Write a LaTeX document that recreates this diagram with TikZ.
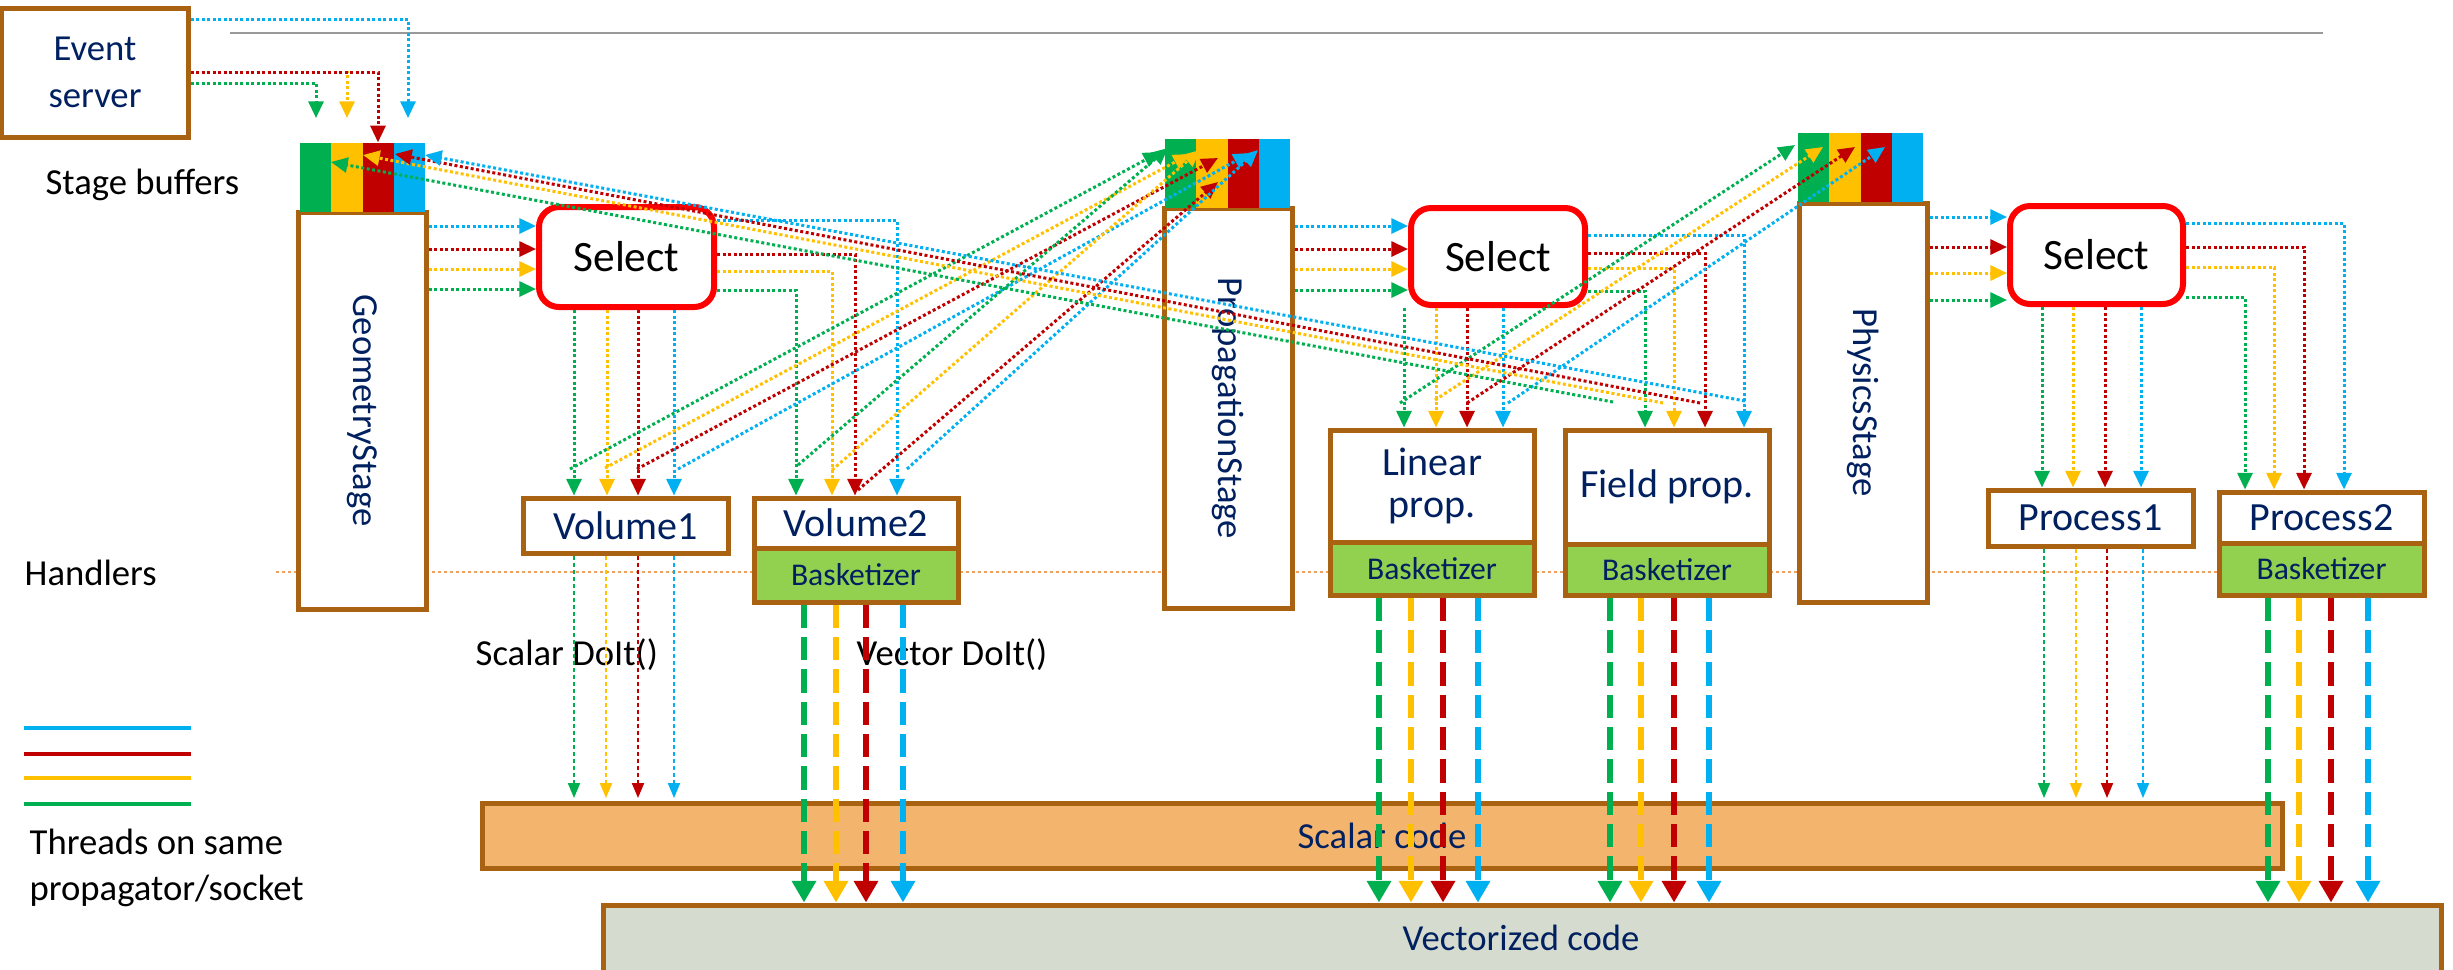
\documentclass[tikz,border=0pt]{standalone}
\usepackage{fontspec}
\setmainfont{Carlito}
\usetikzlibrary{arrows.meta,fit}
\definecolor{cg}{HTML}{00B050}
\definecolor{cy}{HTML}{FFC000}
\definecolor{cr}{HTML}{C00000}
\definecolor{cb}{HTML}{00B0F0}
\definecolor{brn}{RGB}{168,98,18}
\definecolor{navy}{HTML}{002060}
\definecolor{selred}{HTML}{FF0000}
\definecolor{bgreen}{HTML}{92D050}
\definecolor{scal}{RGB}{243,180,110}
\definecolor{vecc}{RGB}{213,219,207}
\definecolor{hand}{RGB}{240,160,90}
\begin{document}
\begin{tikzpicture}[x=0.3pt,y=-0.3pt,
  every node/.style={font=\fontsize{11pt}{13.5pt}\selectfont},
  bx/.style={draw=brn, line width=1.5pt, fill=white, inner sep=0pt},
  bk/.style={bx, fill=bgreen},
  sel/.style={draw=selred, line width=1.8pt, rounded corners=6pt, fill=white, inner sep=0pt},
  tx/.style={text=navy, inner sep=0pt},
  big/.style={tx, font=\fontsize{12pt}{13pt}\selectfont},
  bt/.style={tx, font=\fontsize{9.5pt}{11pt}\selectfont},
  st/.style={inner sep=0pt, text=black, font=\fontsize{13pt}{15pt}\selectfont},
  lbl/.style={inner sep=0pt, anchor=west, text=black},
  da/.style={line width=0.9pt, dash pattern=on 0.9pt off 0.75pt, -{Triangle[length=5pt,width=4.5pt]}},
  sa/.style={line width=0.6pt, dash pattern=on 1.2pt off 0.9pt, -{Triangle[length=4.5pt,width=3.6pt]}},
  ta/.style={line width=1.8pt, dash pattern=on 7pt off 2.7pt, -{Triangle[length=6.5pt,width=7pt]}},
]
\clip (0,0) rectangle (2453,969);
% background lines
\draw[gray!80, line width=0.6pt] (230,33) -- (2323,33);
\draw[hand, line width=0.6pt, dash pattern=on 1pt off 0.8pt] (276,572) -- (2219,572);

% boxes
\node[bx, fit={(2,8)(188,137)}] (es) {};
\node[tx, align=center, font=\fontsize{11pt}{14pt}\selectfont] at (es.center) {Event\\server};
\node[bx, fit={(298,212)(426,609)}] (geo) {};
\node[bx, fit={(1164,208)(1292,608)}] (prop) {};
\node[bx, fit={(1799,203)(1927,602)}] (phys) {};
\node[tx, rotate=-90] at (geo.center) {GeometryStage};
\node[tx, rotate=-90] at (prop.center) {PropagationStage};
\node[tx, rotate=-90] at (phys.center) {PhysicsStage};

% stage buffers
\foreach \x/\y in {300/143,1165/139,1798/133}{
  \fill[cg] (\x,\y) rectangle ++(31.25,69);
  \fill[cy] (\x+31.25,\y) rectangle ++(31.25,69);
  \fill[cr] (\x+62.5,\y) rectangle ++(31.25,69);
  \fill[cb] (\x+93.75,\y) rectangle ++(31.25,69);
}
\node[inner sep=0pt, fit={(300,143)(425,212)}] (buf1) {};
\node[inner sep=0pt, fit={(1165,139)(1290,208)}] (buf2) {};
\node[inner sep=0pt, fit={(1798,133)(1923,202)}] (buf3) {};

\node[sel, fit={(539,207)(714,307)}] (sel1) {};
\node[sel, fit={(1411,208)(1585,305)}] (sel2) {};
\node[sel, fit={(2010,206)(2183,304)}] (sel3) {};
\foreach \s in {sel1,sel2,sel3} \node[st] at (\s.center) {Select};

\node[bx, fit={(523,498)(728,553)}] (vol1) {};
\node[bk, fit={(754,548)(958,602)}] (vol2b) {};
\node[bx, fit={(754,498)(958,548)}] (vol2) {};
\node[bk, fit={(1330,542)(1534,595)}] (linb) {};
\node[bx, fit={(1330,430)(1534,542)}] (lin) {};
\node[bk, fit={(1565,544)(1769,595)}] (fldb) {};
\node[bx, fit={(1565,430)(1769,544)}] (fld) {};
\node[bx, fit={(1988,490)(2193,546)}] (proc1) {};
\node[bk, fit={(2219,543)(2424,595)}] (proc2b) {};
\node[bx, fit={(2219,492)(2424,543)}] (proc2) {};
\node[big] at (vol1.center) {Volume1};
\node[big] at (vol2.center) {Volume2};
\node[big, align=center, font=\fontsize{12pt}{12.6pt}\selectfont] at (lin.center) {Linear\\prop.};
\node[big] at (fld.center) {Field prop.};
\node[big] at (proc1.center) {Process1};
\node[big] at (proc2.center) {Process2};
\foreach \b in {vol2b,linb,fldb,proc2b} \node[bt] at (\b.center) {Basketizer};

\node[bx, fill=scal, fit={(482,803)(2282,868)}] (scal) {};
\node[tx] at (scal.center) {Scalar code};
\node[bx, fill=vecc, fit={(603,905)(2441,1000)}] (vec) {};
\node[tx] at (1521,938) {Vectorized code};

% labels
\node[lbl] at (45,185) {Stage buffers};
\node[lbl] at (24,573) {Handlers};
\node[lbl] at (475,655) {Scalar DoIt()};
\node[lbl] at (856,655) {Vector DoIt()};
\node[lbl, align=left, font=\fontsize{11pt}{14pt}\selectfont] at (29,868) {Threads on same\\propagator/socket};

% legend
\draw[cb, line width=1.2pt] (24,728) -- (191,728);
\draw[cr, line width=1.2pt] (24,754) -- (191,754);
\draw[cy, line width=1.2pt] (24,778) -- (191,778);
\draw[cg, line width=1.2pt] (24,804) -- (191,804);

% event server to buffer 1
\draw[da,cb] (es.east |- 0,19) -| (408,118);
\draw[da,cy] (es.east |- 0,72) -| (347,118);
\draw[da,cr] (es.east |- 0,72) -| (378,0 |- buf1.north);
\draw[da,cg] (es.east |- 0,83) -| (316,118);

% geometry stage
\foreach \y/\c in {226/cb,249/cr,269/cy,289/cg}
  \draw[da,\c] (geo.east |- 0,\y) -- (sel1.west |- 0,\y);
\foreach \x/\c in {574/cg,607/cy,638/cr,674/cb}
  \draw[da,\c] (\x,0 |- sel1.south) -- (\x,0 |- vol1.north);
\foreach \y/\x/\c in {220/897/cb,254/855/cr,271/832/cy,290/796/cg}
  \draw[da,\c] (sel1.east |- 0,\y) -| (\x,0 |- vol2.north);
\foreach \x/\c in {574/cg,606/cy,638/cr,674/cb}
  \draw[sa,\c] (\x,0 |- vol1.south) -- (\x,798);
\foreach \x/\c in {804/cg,836/cy,866/cr,903/cb}
  \draw[ta,\c] (\x,0 |- vol2b.south) -- (\x,0 |- vec.north);

% propagation stage
\foreach \y/\c in {226/cb,249/cr,269/cy,290/cg}
  \draw[da,\c] (prop.east |- 0,\y) -- (sel2.west |- 0,\y);
\foreach \x/\c in {1404/cg,1436/cy,1467/cr,1503/cb}
  \draw[da,\c] (\x,0 |- sel2.south) -- (\x,0 |- lin.north);
\foreach \y/\x/\c in {235/1744/cb,253/1705/cr,268/1674/cy,291/1645/cg}
  \draw[da,\c] (sel2.east |- 0,\y) -| (\x,0 |- fld.north);
\foreach \x/\c in {1379/cg,1411/cy,1443/cr,1478/cb}
  \draw[ta,\c] (\x,0 |- linb.south) -- (\x,0 |- vec.north);
\foreach \x/\c in {1610/cg,1641/cy,1674/cr,1709/cb}
  \draw[ta,\c] (\x,0 |- fldb.south) -- (\x,0 |- vec.north);

% physics stage
\foreach \y/\c in {217/cb,247/cr,273/cy,300/cg}
  \draw[da,\c] (phys.east |- 0,\y) -- (sel3.west |- 0,\y);
\foreach \x/\c in {2042/cg,2073/cy,2105/cr,2141/cb}
  \draw[da,\c] (\x,0 |- sel3.south) -- (\x,0 |- proc1.north);
\foreach \y/\x/\c in {223/2344/cb,247/2304/cr,267/2274/cy,297/2245/cg}
  \draw[da,\c] (sel3.east |- 0,\y) -| (\x,0 |- proc2.north);
\foreach \x/\c in {2044/cg,2076/cy,2107/cr,2143/cb}
  \draw[sa,\c] (\x,0 |- proc1.south) -- (\x,798);
\foreach \x/\c in {2268/cg,2299/cy,2331/cr,2368/cb}
  \draw[ta,\c] (\x,0 |- proc2b.south) -- (\x,0 |- vec.north);

% back arrows: volumes -> propagation buffer
\draw[da,cg] (570,469) -- (1160,152);
\draw[da,cy] (605,468) -- (1190,154);
\draw[da,cr] (637,469) -- (1218,158);
\draw[da,cb] (678,469) -- (1250,153);
\draw[da,cg] (798,465) -- (1168,148);
\draw[da,cy] (832,470) -- (1200,150);
\draw[da,cr] (858,490) -- (1218,182);
\draw[da,cb] (907,469) -- (1258,150);
% linear prop -> physics buffer
\draw[da,cg] (1400,403) -- (1795,145);
\draw[da,cy] (1435,400) -- (1823,147);
\draw[da,cr] (1467,403) -- (1855,147);
\draw[da,cb] (1508,403) -- (1885,147);
% field prop -> geometry buffer
\draw[da,cg] (1613,402) -- (331,162);
\draw[da,cy] (1663,403) -- (363,155);
\draw[da,cr] (1700,403) -- (395,154);
\draw[da,cb] (1745,401) -- (425,155);
\end{tikzpicture}
\end{document}
